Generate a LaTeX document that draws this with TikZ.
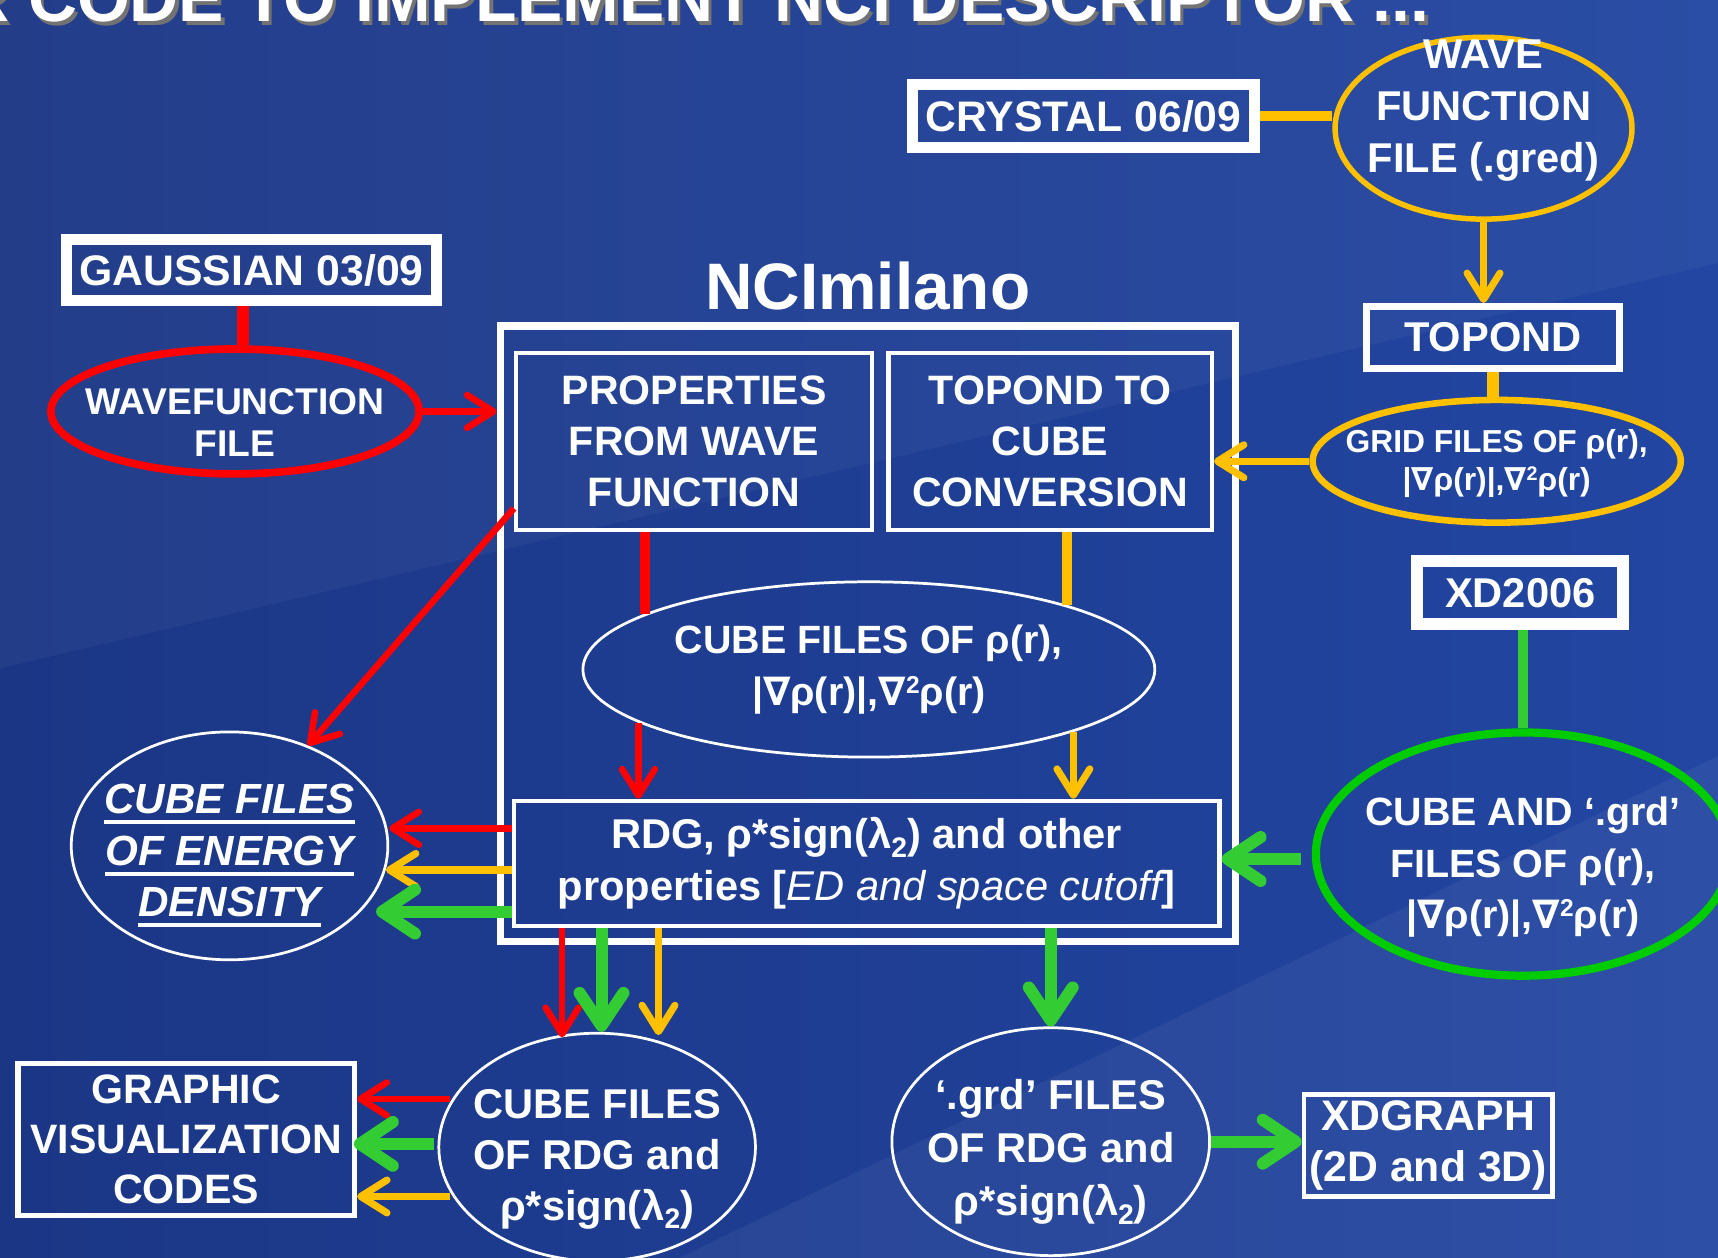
\documentclass[tikz,border=0pt]{standalone}
\usepackage{fontspec}
\setmainfont{Liberation Sans}
\newfontfamily\nablafont{DejaVu Sans}
\usetikzlibrary{shapes.geometric,arrows.meta,positioning}

\definecolor{bgdark}{RGB}{27,54,133}
\definecolor{bglight}{RGB}{34,70,162}
\definecolor{nciyellow}{RGB}{255,192,0}
\definecolor{ncigreen}{RGB}{51,204,51}
\definecolor{ovalgreen}{RGB}{0,204,0}

\newcommand\nab{{\nablafont\bfseries ∇}}
\newcommand\sq{\raisebox{0.3em}{\scalebox{0.62}{2}}}
\newcommand\lsub[1]{\raisebox{-0.2em}{\scalebox{0.68}{#1}}}
\newcommand\edul[1]{\setbox0=\hbox{#1}\rlap{\rule[-9.5pt]{\wd0}{3.7pt}}\box0}
\newcommand\fsz[2]{\fontsize{#1}{#2}\selectfont\bfseries}

\begin{document}
\begin{tikzpicture}[x=1pt,y=-1pt,
    every node/.style={text=white,inner sep=0pt,align=center,font=\fsz{38}{47}},
    whitebox/.style={draw=white,rectangle},
    thinoval/.style={draw=white,ellipse,line width=2.5pt},
    redoval/.style={draw=red,ellipse,line width=7pt},
    yeloval/.style={draw=nciyellow,ellipse},
    grnoval/.style={draw=ovalgreen,ellipse,line width=7.5pt},
    redlink/.style={draw=red,line width=9pt},
    yellink/.style={draw=nciyellow,line width=9pt},
    grnlink/.style={draw=ncigreen,line width=10pt},
    redarr/.style={draw=red,line width=6pt,-{Straight Barb[length=24pt,width=30pt,round]}},
    yelarr/.style={draw=nciyellow,line width=6.5pt,-{Straight Barb[length=24pt,width=30pt,round]}},
    grnarr/.style={draw=ncigreen,line width=11pt,-{Straight Barb[length=30pt,width=40pt,round]}}]
  \useasboundingbox (0,0) rectangle (1568,1148);
  \clip (0,0) rectangle (1568,1148);
  \shade[left color=bgdark,right color=bglight] (0,0) rectangle (1568,1148);
  \fill[white,opacity=0.04] (0,0) -- (1568,0) -- (1568,240) -- (0,610) -- cycle;
  \fill[white,opacity=0.05] (620,1148) -- (1568,690) -- (1568,1148) -- cycle;

  \node[anchor=base east,font=\fsz{62}{62},text=black!55] at (1308,23) {R CODE TO IMPLEMENT NCI DESCRIPTOR ...};
  \node[anchor=base east,font=\fsz{62}{62}] (title) at (1305,20) {R CODE TO IMPLEMENT NCI DESCRIPTOR ...};

  \node[whitebox,line width=10pt,minimum width=312pt,minimum height=57pt,font=\fsz{39}{47}] (crystal) at (989,106) {CRYSTAL 06/09};
  \node[yeloval,line width=5pt,minimum width=271pt,minimum height=166pt,
    label={[font=\fsz{38}{47.5},yshift=16pt]center:WAVE\\FUNCTION\\FILE (.gred)}] (wavegred) at (1354,117) {};
  \node[whitebox,line width=6pt,minimum width=231pt,minimum height=57pt] (topond) at (1362.5,308) {TOPOND};
  \node[yeloval,line width=6pt,minimum width=336pt,minimum height=112pt,
    label={[font=\fsz{29}{34.5},yshift=-2pt]center:GRID FILES OF ρ(r),\\|\nab ρ(r)|,\nab\sq ρ(r)}] (gridfiles) at (1366,421) {};

  \node[whitebox,line width=10pt,minimum width=337pt,minimum height=55pt,font=\fsz{39}{47}] (gaussian) at (229.5,246.5) {GAUSSIAN 03/09};
  \node[redoval,minimum width=336pt,minimum height=114pt,
    label={[font=\fsz{34}{38.5},yshift=-10pt]center:WAVEFUNCTION\\FILE}] (wavefile) at (214.5,375.5) {};

  \node[whitebox,line width=6.5pt,minimum width=671pt,minimum height=562pt] (bigbox) at (792,578.5) {};
  \node[font=\fsz{60}{60},above=11pt of bigbox] (ncimilano) {NCImilano};
  \node[whitebox,line width=4pt,minimum width=325pt,minimum height=162pt,font=\fsz{37.5}{46.6}] (properties) at (633.5,403) {PROPERTIES\\FROM WAVE\\FUNCTION};
  \node[whitebox,line width=4pt,minimum width=295pt,minimum height=162pt,font=\fsz{37.5}{46.6}] (topondcube) at (958.5,403) {TOPOND TO\\CUBE\\CONVERSION};
  \node[thinoval,minimum width=522pt,minimum height=160pt,font=\fsz{36}{47}] (cubefiles) at (793,611) {CUBE FILES OF ρ(r),\\|\nab ρ(r)|,\nab\sq ρ(r)};
  \node[whitebox,line width=4pt,minimum width=644pt,minimum height=114pt] (rdg) at (791,788) {RDG, ρ*sign(λ\lsub{2}) and other\\properties [{\mdseries\itshape ED and space cutoff}]};

  \node[thinoval,minimum width=289pt,minimum height=208pt,
    label={[font=\fsz{38.5}{47}\itshape,yshift=-9pt]center:\edul{CUBE FILES}\\\edul{OF ENERGY}\\\edul{DENSITY}}] (ed) at (209.5,772) {};
  \node[thinoval,minimum width=289pt,minimum height=208pt,
    label={[font=\fsz{38}{46.5},yshift=-11pt]center:CUBE FILES\\OF RDG and\\ρ*sign(λ\lsub{2})}] (cuberdg) at (545,1047) {};
  \node[whitebox,line width=5pt,minimum width=307pt,minimum height=139pt,font=\fsz{37.5}{45.5}] (graphic) at (170,1040) {GRAPHIC\\VISUALIZATION\\CODES};
  \node[thinoval,minimum width=290pt,minimum height=208pt,
    label={[font=\fsz{38}{48.5},yshift=-9.5pt]center:‘.grd’ FILES\\OF RDG and\\ρ*sign(λ\lsub{2})}] (grd) at (959,1042) {};
  \node[whitebox,line width=4pt,minimum width=227pt,minimum height=93pt,font=\fsz{39}{46}] (xdgraph) at (1303.5,1045.5) {XDGRAPH\\(2D and 3D)};

  \node[whitebox,line width=11pt,minimum width=188pt,minimum height=57.5pt] (xd2006) at (1387.5,541) {XD2006};
  \node[grnoval,minimum width=378pt,minimum height=222pt,
    label={[font=\fsz{36}{47},yshift=-12pt]center:CUBE AND ‘.grd’\\FILES OF ρ(r),\\|\nab ρ(r)|,\nab\sq ρ(r)}] (xdfiles) at (1390,779.5) {};

  \begin{scope}[redlink]
    \draw[line width=11pt] ([xshift=-8pt]gaussian.south) to ([xshift=-8pt]gaussian.south |- wavefile.north);
    \draw (cubefiles.166 |- properties.south) to (cubefiles.166);
  \end{scope}
  \begin{scope}[yellink]
    \draw (crystal.east) to (crystal.east -| wavegred.west);
    \draw[line width=11pt] (topond.south) to (topond.south |- gridfiles.north);
    \draw (cubefiles.18 |- topondcube.south) to (cubefiles.18);
  \end{scope}
  \begin{scope}[grnlink]
    \draw (xdfiles.north |- xd2006.south) to (xdfiles.north);
  \end{scope}

  \begin{scope}[redarr]
    \draw (wavefile.east) to (wavefile.east -| bigbox.west);
    \draw ([yshift=-61pt]properties.west) to (ed.52);
    \draw (cubefiles.193) to (cubefiles.193 |- rdg.north);
    \draw ([yshift=32pt]rdg.west) to ([yshift=16pt]ed.east);
    \draw ([xshift=-278pt]rdg.south) to ([xshift=-32pt,yshift=-5pt]cuberdg.north);
    \draw ([xshift=11pt,yshift=44pt]cuberdg.west) to ([yshift=37pt]graphic.east);
  \end{scope}
  \begin{scope}[yelarr]
    \draw (wavegred.south) to (wavegred.south |- topond.north);
    \draw (gridfiles.west) to (gridfiles.west -| topondcube.east);
    \draw (cubefiles.343) to (cubefiles.343 |- rdg.north);
    \draw ([yshift=-6pt]rdg.west) to ([xshift=-3pt,yshift=-22pt]ed.east);
    \draw ([xshift=-190pt]rdg.south) to ([xshift=56pt,yshift=-3pt]cuberdg.north);
    \draw ([xshift=11pt,yshift=-45pt]cuberdg.west) to ([yshift=-52pt]graphic.east);
  \end{scope}
  \begin{scope}[grnarr]
    \draw ([yshift=-44pt]rdg.west) to ([xshift=-12pt,yshift=-60pt]ed.east);
    \draw ([xshift=-242pt]rdg.south) to ([xshift=4pt]cuberdg.north);
    \draw ([xshift=-3pt,yshift=3pt]cuberdg.west) to ([xshift=-3pt,yshift=-4pt]graphic.east);
    \draw (grd.north |- rdg.south) to (grd.north);
    \draw (grd.east) to (grd.east -| xdgraph.west);
    \draw ([xshift=-10pt,yshift=-4.5pt]xdfiles.west) to ([yshift=4pt]rdg.east);
  \end{scope}
\end{tikzpicture}
\end{document}
